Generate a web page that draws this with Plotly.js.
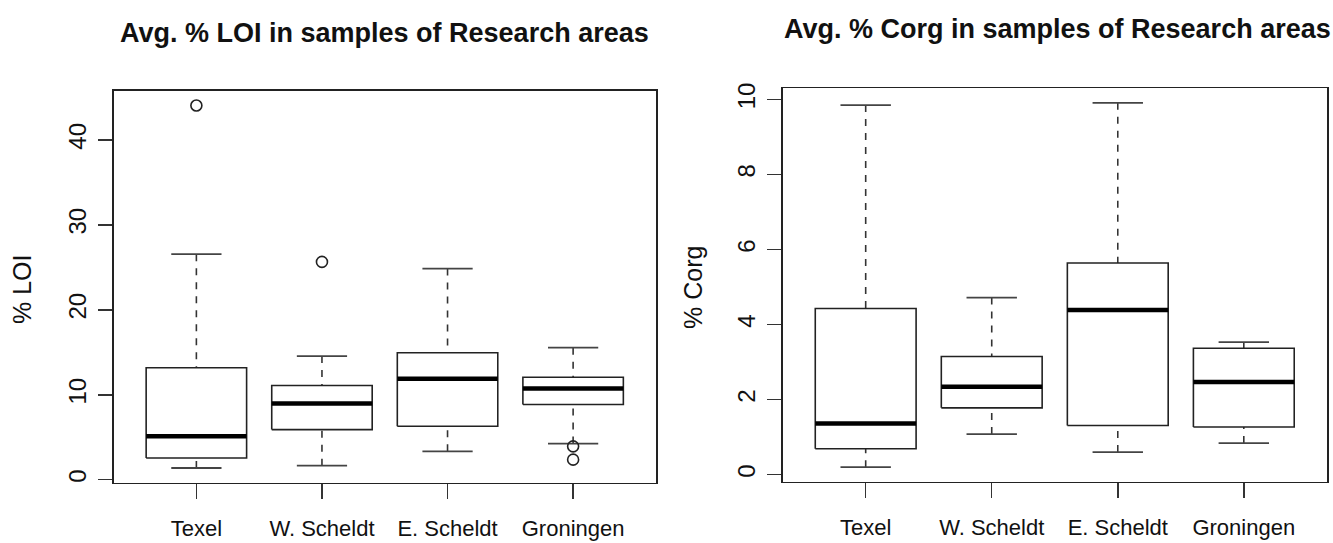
<!DOCTYPE html>
<html>
<head>
<meta charset="utf-8">
<script src="https://cdn.plot.ly/plotly-3.0.1.min.js"></script>
<style>
  html, body { margin: 0; padding: 0; background: #fff; }
  #chart { width: 1333px; height: 543px; }
</style>
</head>
<body>
<div id="chart"></div>
<script>
// Research areas along the x axis
const areas = ['Texel', 'W. Scheldt', 'E. Scheldt', 'Groningen'];

// % LOI five-number summaries per area
const loiLowerWhisker = [1.38, 1.65, 3.34, 4.25];
const loiQ1           = [2.56, 5.90, 6.29, 8.85];
const loiMedian       = [5.11, 8.97, 11.88, 10.74];
const loiQ3           = [13.18, 11.09, 14.95, 12.07];
const loiUpperWhisker = [26.55, 14.55, 24.86, 15.54];
const loiOutliers     = [[44.05], [25.64], [], [3.93, 2.36]];

// % Corg five-number summaries per area
const corgLowerWhisker = [0.20, 1.08, 0.60, 0.84];
const corgQ1           = [0.69, 1.78, 1.31, 1.27];
const corgMedian       = [1.36, 2.34, 4.39, 2.47];
const corgQ3           = [4.43, 3.15, 5.64, 3.37];
const corgUpperWhisker = [9.85, 4.72, 9.91, 3.53];
const corgOutliers     = [[], [], [], []];

const yTicksLoi  = [0, 10, 20, 30, 40];
const yTicksCorg = [0, 2, 4, 6, 8, 10];

const INK = '#222';
const HALF_BOX = 0.4;     // boxwex 0.8
const HALF_STAPLE = 0.2;  // staples half the box width

function boxTraces(lo, q1, med, q3, hi, outl, xa, ya) {
  const bx = [], by = [], mx = [], my = [], wx = [], wy = [], sx = [], sy = [], ox = [], oy = [];
  areas.forEach((_, i) => {
    const c = i + 1;
    bx.push(c - HALF_BOX, c + HALF_BOX, c + HALF_BOX, c - HALF_BOX, c - HALF_BOX, null);
    by.push(q1[i], q1[i], q3[i], q3[i], q1[i], null);
    mx.push(c - HALF_BOX, c + HALF_BOX, null);
    my.push(med[i], med[i], null);
    // whiskers run from the extreme inward to the hinge
    wx.push(c, c, null, c, c, null);
    wy.push(lo[i], q1[i], null, hi[i], q3[i], null);
    sx.push(c - HALF_STAPLE, c + HALF_STAPLE, null, c - HALF_STAPLE, c + HALF_STAPLE, null);
    sy.push(lo[i], lo[i], null, hi[i], hi[i], null);
    outl[i].forEach(v => { ox.push(c); oy.push(v); });
  });
  const common = { xaxis: xa, yaxis: ya, hoverinfo: 'skip', showlegend: false };
  return [
    Object.assign({ type: 'scatter', mode: 'lines', x: wx, y: wy,
      line: { color: '#333', width: 1.6, dash: '7px,7px' } }, common),
    Object.assign({ type: 'scatter', mode: 'lines', x: sx, y: sy,
      line: { color: '#444', width: 1.8 } }, common),
    Object.assign({ type: 'scatter', mode: 'lines', x: bx, y: by,
      line: { color: INK, width: 1.6 } }, common),
    Object.assign({ type: 'scatter', mode: 'lines', x: mx, y: my,
      line: { color: '#000', width: 4.5 } }, common),
    Object.assign({ type: 'scatter', mode: 'markers', x: ox, y: oy, cliponaxis: false,
      marker: { symbol: 'circle-open', size: 11, color: INK, line: { width: 1.6, color: INK } } }, common)
  ];
}

// y limits extended 4% beyond the data range
function paddedRange(lo, hi, outl) {
  const all = lo.concat(hi, ...outl);
  const mn = Math.min(...all), mx = Math.max(...all);
  const pad = 0.04 * (mx - mn);
  return [mn - pad, mx + pad];
}

const W = 1333, H = 543;
const px = v => v / W;
const py = v => 1 - v / H;

const tickFont = { family: 'Liberation Sans, Arial, sans-serif', size: 24, color: '#111' };
const catFont = { family: 'Liberation Sans, Arial, sans-serif', size: 22, color: '#111' };

function xAxis(domain, anchor) {
  return {
    domain: domain, anchor: anchor, range: [0.34, 4.66],
    tickmode: 'array', tickvals: areas.map((_, i) => i + 1), ticktext: areas,
    ticks: 'outside', ticklen: 15, tickwidth: 1.5, tickcolor: '#333',
    showline: true, mirror: true, linecolor: INK, linewidth: 1.6,
    showgrid: false, zeroline: false, tickfont: catFont, ticklabelstandoff: 10, fixedrange: true
  };
}
function yAxis(domain, anchor, range, ticks) {
  return {
    domain: domain, anchor: anchor, range: range,
    tickmode: 'array', tickvals: ticks, tickangle: -90,
    ticks: 'outside', ticklen: 14, tickwidth: 1.5, tickcolor: '#333',
    showline: true, mirror: true, linecolor: INK, linewidth: 1.6,
    showgrid: false, zeroline: false, tickfont: tickFont, ticklabelstandoff: 2, fixedrange: true
  };
}

const data = [].concat(
  boxTraces(loiLowerWhisker, loiQ1, loiMedian, loiQ3, loiUpperWhisker, loiOutliers, 'x', 'y'),
  boxTraces(corgLowerWhisker, corgQ1, corgMedian, corgQ3, corgUpperWhisker, corgOutliers, 'x2', 'y2')
);

const titleFont = { family: 'Liberation Sans, Arial, sans-serif', size: 27, color: '#111', weight: 'bold' };
const axTitleFont = { family: 'Liberation Sans, Arial, sans-serif', size: 25, color: '#111' };

const layout = {
  width: W, height: H,
  margin: { l: 0, r: 0, t: 0, b: 0 },
  paper_bgcolor: '#fff', plot_bgcolor: '#fff',
  showlegend: false,
  xaxis:  xAxis([px(113.5), px(656)], 'y'),
  yaxis:  yAxis([py(482.5), py(91)], 'x', paddedRange(loiLowerWhisker, loiUpperWhisker, loiOutliers), yTicksLoi),
  xaxis2: xAxis([px(782.5), px(1327)], 'y2'),
  yaxis2: yAxis([py(481.7), py(88.3)], 'x2', paddedRange(corgLowerWhisker, corgUpperWhisker, corgOutliers), yTicksCorg),
  annotations: [
    { text: '<b>Avg. % LOI in samples of Research areas</b>', xref: 'paper', yref: 'paper',
      x: px(385), y: py(33), xanchor: 'center', yanchor: 'middle', showarrow: false, font: titleFont },
    { text: '<b>Avg. % Corg in samples of Research areas</b>', xref: 'paper', yref: 'paper',
      x: px(1057), y: py(28.5), xanchor: 'center', yanchor: 'middle', showarrow: false, font: titleFont },
    { text: '% LOI', xref: 'paper', yref: 'paper', x: px(22), y: py(290), textangle: -90,
      xanchor: 'center', yanchor: 'middle', showarrow: false, font: axTitleFont },
    { text: '% Corg', xref: 'paper', yref: 'paper', x: px(693), y: py(287), textangle: -90,
      xanchor: 'center', yanchor: 'middle', showarrow: false, font: axTitleFont }
  ]
};

Plotly.newPlot('chart', data, layout, { staticPlot: true, displayModeBar: false });
</script>
</body>
</html>
